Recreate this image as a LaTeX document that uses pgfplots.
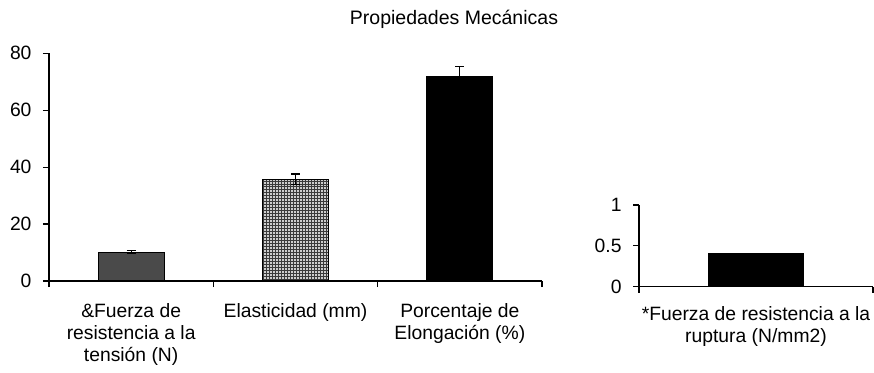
\documentclass[border=0pt]{standalone}
\usepackage{pgfplots}
\pgfplotsset{compat=1.18}
\usepackage{fontspec}
\setmainfont{Liberation Sans}
\usetikzlibrary{patterns}
\definecolor{darkbar}{HTML}{4A4A4A}
\definecolor{lightbar}{HTML}{CDCDCD}
\definecolor{lightpat}{HTML}{3A3A3A}
\begin{document}
\begin{tikzpicture}[x=1bp,y=1bp]
\path[use as bounding box] (0,0) rectangle (874,372);
\pgfplotsset{
 mystyle/.style={
  scale only axis,
  axis lines*=left,
  axis line style={-, line width=1.2bp, black},
  tick align=outside,
  major tick style={black, line width=1.2bp},
  major tick length=6bp,
  /pgf/number format/assume math mode=true,
  tick label style={font=\fontsize{19.3bp}{21.8bp}\selectfont},
  xticklabel style={align=center, yshift=-19bp},
  yticklabel style={xshift=-8bp},
  ytick pos=left, xtick pos=bottom,
  xticklabels={},
  extra x tick style={major tick length=0pt},
 },
 errs/.style={error bars/.cd, y dir=both, y explicit,
   error bar style={line width=1.2bp, black},
   error mark options={rotate=90, mark size=4.5bp, line width=1.2bp, black}},
}
\node[font=\fontsize{19.5bp}{22bp}\selectfont] at (454,353) {Propiedades Mecánicas};
\begin{axis}[mystyle, at={(49bp,91bp)}, anchor=south west,
  width=493bp, height=227.7bp,
  xmin=-0.5, xmax=2.5, ymin=0, ymax=80,
  ytick={0,20,40,60,80},
  xtick={-0.5,0.5,1.5,2.5},
  extra x ticks={0,1,2},
  extra x tick labels={{\&Fuerza de\\resistencia a la\\tensión (N)},{Elasticidad (mm)},{Porcentaje de\\Elongación (\%)}},
  ybar, bar width=66bp, bar shift=0pt]
\addplot[draw=black, line width=1.2bp, fill=darkbar, errs]
  coordinates {(0,10.1) +- (0,0.5)};
\addplot[draw=black, line width=1.2bp, fill=lightbar, postaction={pattern=grid, pattern color=lightpat}, errs]
  coordinates {(1,35.8) +- (0,1.8)};
\addplot[draw=black, line width=1.2bp, fill=black, errs]
  coordinates {(2,71.7) +- (0,3.6)};
\end{axis}
\begin{axis}[mystyle, at={(639bp,85.3bp)}, anchor=south west,
  width=234bp, height=81.7bp,
  xmin=-0.5, xmax=0.5, ymin=0, ymax=1,
  ytick={0,0.5,1}, yticklabels={0,0.5,1},
  xtick={-0.5,0.5},
  xticklabel style={yshift=3bp},
  extra x ticks={0},
  extra x tick labels={{*Fuerza de resistencia a la\\ruptura (N/mm2)}},
  ybar, bar width=95bp, bar shift=0pt]
\addplot[draw=black, line width=1.2bp, fill=black, errs]
  coordinates {(0,0.40) +- (0,0.01)};
\end{axis}
\end{tikzpicture}
\end{document}
